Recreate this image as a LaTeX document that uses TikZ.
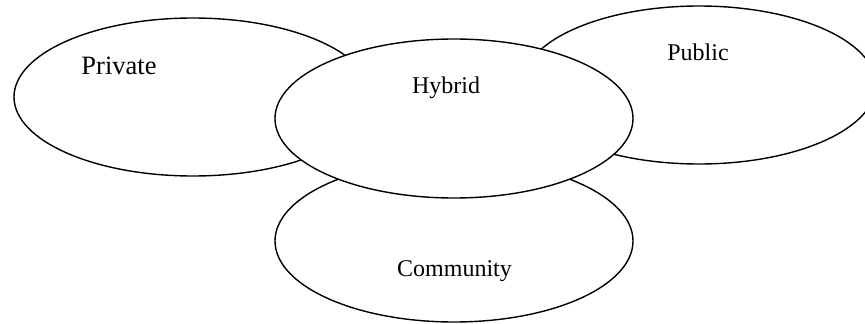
\documentclass[tikz,border=0pt]{standalone}
\usepackage{fontspec}
\setmainfont{Liberation Serif}
\usetikzlibrary{shapes.geometric}
\begin{document}
\begin{tikzpicture}[x=1pt,y=-1pt,
  cloud/.style={ellipse, draw=black, fill=white, line width=1.4pt, inner sep=0pt, outer sep=0pt},
  lbl/.style={anchor=base, inner sep=0pt, font=\fontsize{24}{28}\selectfont}]
\useasboundingbox (0,0) rectangle (865,324);
\clip (0,0) rectangle (865,324);
\fill[white] (0,0) rectangle (865,324);
\node[cloud, minimum width=358pt, minimum height=158pt] (private) at (193,97) {};
\node[cloud, minimum width=354pt, minimum height=158pt] (public) at (699,85) {};
\node[cloud, minimum width=358pt, minimum height=162pt] (community) at (454,241) {};
\node[cloud, minimum width=358pt, minimum height=159pt] (hybrid) at (454,118.5) {};
\node[lbl, font=\fontsize{26.5}{30}\selectfont] (tprivate) at (119,74) {Private};
\node[lbl] (tpublic) at (698,60) {Public};
\node[lbl] (thybrid) at (446,93) {Hybrid};
\node[lbl] (tcommunity) at (454.5,276) {Community};
\end{tikzpicture}
\end{document}
